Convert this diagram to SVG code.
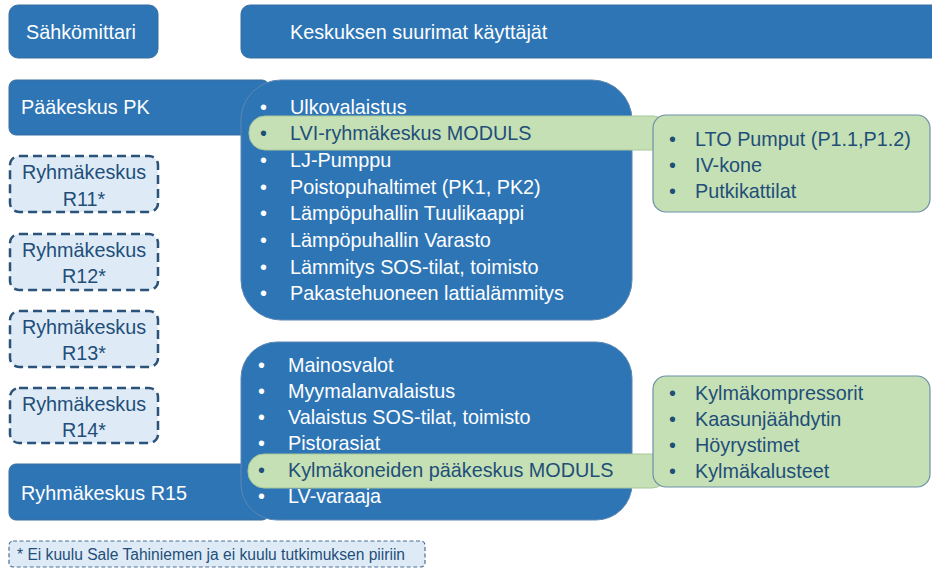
<svg xmlns="http://www.w3.org/2000/svg" width="932" height="570" viewBox="0 0 932 570">
<style>
.blue{fill:#2E75B6;stroke:#3A6FA0;stroke-width:1}
.big{fill:#2E75B6;stroke:#5C87B3;stroke-width:1}
.dash{fill:#DEEBF7;stroke:#2B5278;stroke-width:2.5;stroke-dasharray:9,5}
.fdash{fill:#DEEBF7;stroke:#4A6F94;stroke-width:1.2;stroke-dasharray:4,2.5}
.grow{fill:#C5E0B4;stroke:#A8C79A;stroke-width:1}
.gbox{fill:#C5E0B4;stroke:#6F8FA8;stroke-width:1.2}
text{font-family:"Liberation Sans",Arial,sans-serif;font-size:19.8px}
.w{fill:#FFFFFF}
.d{fill:#1F4E79}
.c{text-anchor:middle}
.fn{font-size:15.6px;fill:#1F4E79}
</style>
<g id="connectors"></g>
<g id="sahkomittari">
<rect class="blue" x="9" y="5" width="149" height="53" rx="9"/>
<text class="w" x="26" y="39">Sähkömittari</text>
</g>
<g id="keskuksen">
<rect class="blue" x="241" y="5" width="700" height="53" rx="9"/>
<text class="w" x="290" y="39">Keskuksen suurimat käyttäjät</text>
</g>
<g id="paakeskus">
<rect class="blue" x="9" y="80" width="260" height="55" rx="7"/>
<text class="w" x="21" y="114">Pääkeskus PK</text>
</g>
<g id="pk-list">
<rect class="big" x="241" y="80" width="391" height="240" rx="40"/>
<g class="w">
<text x="260" y="114">•</text><text x="290" y="114">Ulkovalaistus</text>
<text x="260" y="167">•</text><text x="290" y="167">LJ-Pumppu</text>
<text x="260" y="194">•</text><text x="290" y="194">Poistopuhaltimet (PK1, PK2)</text>
<text x="260" y="220">•</text><text x="290" y="220">Lämpöpuhallin Tuulikaappi</text>
<text x="260" y="247">•</text><text x="290" y="247">Lämpöpuhallin Varasto</text>
<text x="260" y="274">•</text><text x="290" y="274">Lämmitys SOS-tilat, toimisto</text>
<text x="260" y="300">•</text><text x="290" y="300">Pakastehuoneen lattialämmitys</text>
</g>
</g>
<g id="lvi">
<rect class="grow" x="249" y="116" width="420" height="34" rx="16"/>
<text class="d" x="260" y="140">•</text><text class="d" x="290" y="140">LVI-ryhmäkeskus MODULS</text>
</g>
<g id="lvi-items">
<rect class="gbox" x="653" y="115" width="277" height="97" rx="13"/>
<g class="d">
<text x="669" y="146">•</text><text x="695" y="146">LTO Pumput (P1.1,P1.2)</text>
<text x="669" y="172">•</text><text x="695" y="172">IV-kone</text>
<text x="669" y="198">•</text><text x="695" y="198">Putkikattilat</text>
</g>
</g>
<g id="r11">
<rect class="dash" x="10" y="156" width="148" height="56" rx="9"/>
<text class="d c" x="84" y="179">Ryhmäkeskus</text><text class="d c" x="84" y="206">R11*</text>
</g>
<g id="r12">
<rect class="dash" x="10" y="234" width="148" height="56" rx="9"/>
<text class="d c" x="84" y="257">Ryhmäkeskus</text><text class="d c" x="84" y="283">R12*</text>
</g>
<g id="r13">
<rect class="dash" x="10" y="311" width="148" height="56" rx="9"/>
<text class="d c" x="84" y="334">Ryhmäkeskus</text><text class="d c" x="84" y="360">R13*</text>
</g>
<g id="r14">
<rect class="dash" x="10" y="388" width="148" height="55" rx="9"/>
<text class="d c" x="84" y="411">Ryhmäkeskus</text><text class="d c" x="84" y="437">R14*</text>
</g>
<g id="r15">
<rect class="blue" x="9" y="464" width="260" height="56" rx="7"/>
<text class="w" x="21" y="500">Ryhmäkeskus R15</text>
</g>
<g id="r15-list">
<rect class="big" x="241" y="342" width="391" height="178" rx="36"/>
<g class="w">
<text x="258" y="372">•</text><text x="288" y="372">Mainosvalot</text>
<text x="258" y="398">•</text><text x="288" y="398">Myymalanvalaistus</text>
<text x="258" y="424">•</text><text x="288" y="424">Valaistus SOS-tilat, toimisto</text>
<text x="258" y="450">•</text><text x="288" y="450">Pistorasiat</text>
<text x="258" y="503">•</text><text x="288" y="503">LV-varaaja</text>
</g>
</g>
<g id="kylma">
<rect class="grow" x="248" y="454" width="420" height="34" rx="16"/>
<text class="d" x="258" y="477">•</text><text class="d" x="288" y="477">Kylmäkoneiden pääkeskus MODULS</text>
</g>
<g id="kylma-items">
<rect class="gbox" x="653" y="376" width="277" height="111" rx="13"/>
<g class="d">
<text x="669" y="400">•</text><text x="695" y="400">Kylmäkompressorit</text>
<text x="669" y="426">•</text><text x="695" y="426">Kaasunjäähdytin</text>
<text x="669" y="452">•</text><text x="695" y="452">Höyrystimet</text>
<text x="669" y="478">•</text><text x="695" y="478">Kylmäkalusteet</text>
</g>
</g>
<g id="footnote">
<rect class="fdash" x="9" y="541" width="416" height="26" rx="4"/>
<text class="fn" x="17" y="560">* Ei kuulu Sale Tahiniemen ja ei kuulu tutkimuksen piiriin</text>
</g>
</svg>
